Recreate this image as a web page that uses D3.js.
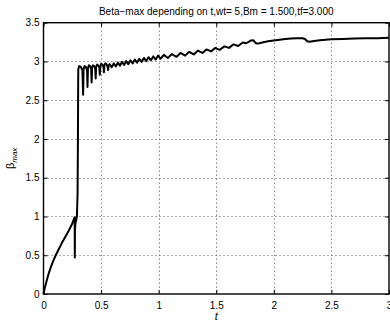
<!DOCTYPE html>
<html><head><meta charset="utf-8">
<script src="https://cdn.jsdelivr.net/npm/d3@7"></script>
<style>
body{margin:0;background:#fff;}
svg{display:block;font-family:"Liberation Sans",Arial,Helvetica,sans-serif;}
</style></head>
<body><svg id="c" width="390" height="324"></svg>
<script>
const titleText = "Beta\u2212max depending on t,wt= 5,Bm = 1.500,tf=3.000";
const xTicks = [0, 0.5, 1, 1.5, 2, 2.5, 3];
const yTicks = [0, 0.5, 1, 1.5, 2, 2.5, 3, 3.5];
const tVals = [
 0, 0.01, 0.02, 0.04, 0.06, 0.08, 0.10, 0.13, 0.16, 0.19, 0.22, 0.25, 0.27,
 0.271, 0.272, 0.273, 0.276, 0.29, 0.296, 0.299, 0.301, 0.302,
 0.310, 0.325, 0.338, 0.344,
 0.348, 0.356, 0.368, 0.378, 0.382,
 0.386, 0.394, 0.405, 0.414, 0.418,
 0.422, 0.430, 0.440, 0.449, 0.453,
 0.457, 0.465, 0.475, 0.485, 0.489,
 0.493, 0.501, 0.511, 0.521, 0.525,
 0.529, 0.537, 0.547, 0.557, 0.561,
 0.566, 0.575, 0.592, 0.610, 0.628, 0.646, 0.664, 0.682, 0.700, 0.718, 0.736,
 0.755, 0.774, 0.793, 0.812, 0.832, 0.852, 0.872, 0.892, 0.912, 0.932, 0.953,
 0.974, 0.995, 1.016, 1.045, 1.080, 1.115, 1.155, 1.19, 1.23, 1.265, 1.305,
 1.34, 1.38, 1.415, 1.455, 1.49, 1.53, 1.57, 1.61, 1.65, 1.69, 1.73, 1.76,
 1.80, 1.82, 1.845, 1.86, 1.90, 1.95, 2.00, 2.05, 2.10, 2.15, 2.20, 2.25,
 2.27, 2.29, 2.31, 2.35, 2.40, 2.50, 2.60, 2.70, 2.80, 2.90, 3.00
];
const betaVals = [
 0, 0.07, 0.13, 0.24, 0.33, 0.41, 0.48, 0.57, 0.66, 0.74, 0.82, 0.91, 0.99,
 0.84, 0.47, 0.80, 0.90, 1.00, 1.30, 2.00, 2.70, 2.90,
 2.94, 2.93, 2.88, 2.57,
 2.90, 2.94, 2.93, 2.89, 2.67,
 2.91, 2.95, 2.94, 2.90, 2.73,
 2.92, 2.95, 2.94, 2.91, 2.78,
 2.93, 2.96, 2.95, 2.92, 2.83,
 2.94, 2.97, 2.96, 2.93, 2.86,
 2.95, 2.975, 2.965, 2.93, 2.89,
 2.95, 2.965, 2.925, 2.975, 2.935, 2.985, 2.945, 2.995, 2.955, 3.005, 2.965,
 3.015, 2.975, 3.025, 2.985, 3.035, 2.995, 3.045, 3.005, 3.055, 3.015, 3.065,
 3.025, 3.075, 3.035, 3.085, 3.045, 3.095, 3.06, 3.11, 3.075, 3.125, 3.09,
 3.14, 3.11, 3.155, 3.13, 3.175, 3.15, 3.195, 3.175, 3.22, 3.20, 3.245, 3.235,
 3.27, 3.275, 3.235, 3.23, 3.245, 3.26, 3.27, 3.28, 3.29, 3.295, 3.298, 3.30,
 3.29, 3.26, 3.255, 3.265, 3.275, 3.285, 3.29, 3.295, 3.30, 3.30, 3.305
];

const svg = d3.select("#c");
const L = 43.5, R = 389, T = 22.7, B = 294;
const x = d3.scaleLinear().domain([0, 3]).range([L, R]);
const y = d3.scaleLinear().domain([0, 3.5]).range([B, T]);

// grid
const grid = svg.append("g");
grid.selectAll("line.gx").data(xTicks.slice(1, -1)).join("line")
  .attr("x1", d => Math.round(x(d)) + 0.5).attr("x2", d => Math.round(x(d)) + 0.5)
  .attr("y1", T).attr("y2", B)
  .attr("stroke", "#555").attr("stroke-width", 1).attr("stroke-dasharray", "1,3");
grid.selectAll("line.gy").data(yTicks.slice(1, -1)).join("line")
  .attr("y1", d => Math.round(y(d)) + 0.5).attr("y2", d => Math.round(y(d)) + 0.5)
  .attr("x1", L).attr("x2", R)
  .attr("stroke", "#555").attr("stroke-width", 1).attr("stroke-dasharray", "1,3");

// axes
const fmt = d3.format("~g");
const ax = svg.append("g").attr("transform", `translate(0,${B})`)
  .call(d3.axisBottom(x).tickValues(xTicks).tickFormat(fmt).tickSizeInner(-4).tickSizeOuter(0).tickPadding(8));
const ay = svg.append("g").attr("transform", `translate(${L},0)`)
  .call(d3.axisLeft(y).tickValues(yTicks).tickFormat(fmt).tickSizeInner(-4).tickSizeOuter(0).tickPadding(4));
const axTop = svg.append("g").attr("transform", `translate(0,${T})`)
  .call(d3.axisTop(x).tickValues(xTicks).tickFormat("").tickSizeInner(-4).tickSizeOuter(0));
const ayR = svg.append("g").attr("transform", `translate(${R},0)`)
  .call(d3.axisRight(y).tickValues(yTicks).tickFormat("").tickSizeInner(-4).tickSizeOuter(0));
[ax, ay, axTop, ayR].forEach(g => {
  g.select(".domain").remove();
  g.selectAll("line").attr("stroke", "#000");
  g.selectAll("text").attr("font-size", 10).attr("fill", "#000")
    .attr("font-family", "'Liberation Sans', Arial, sans-serif");
});

// box
svg.append("rect").attr("x", L).attr("y", T).attr("width", R - L).attr("height", B - T)
  .attr("fill", "none").attr("stroke", "#000").attr("stroke-width", 1.4);

// data line
const pts = tVals.map((t, i) => [t, betaVals[i]]);
svg.append("path").datum(pts)
  .attr("d", d3.line().x(d => x(d[0])).y(d => y(d[1])))
  .attr("fill", "none").attr("stroke", "#000").attr("stroke-width", 2)
  .attr("stroke-linejoin", "round");

// title
svg.append("text").attr("x", (L + R) / 2).attr("y", 14.5).attr("text-anchor", "middle")
  .attr("font-size", 10).attr("fill", "#000").text(titleText);

// x label
svg.append("text").attr("x", (L + R) / 2).attr("y", 320).attr("text-anchor", "middle")
  .attr("font-size", 11).attr("font-style", "italic").attr("fill", "#000").text("t");

// y label
const yl = svg.append("text").attr("transform", `translate(14,${(T + B) / 2}) rotate(-90)`)
  .attr("text-anchor", "middle").attr("font-size", 11).attr("fill", "#000");
yl.append("tspan").text("\u03b2");
yl.append("tspan").attr("font-size", 8).attr("font-style", "italic").attr("dy", 3).text("max");
</script></body></html>
